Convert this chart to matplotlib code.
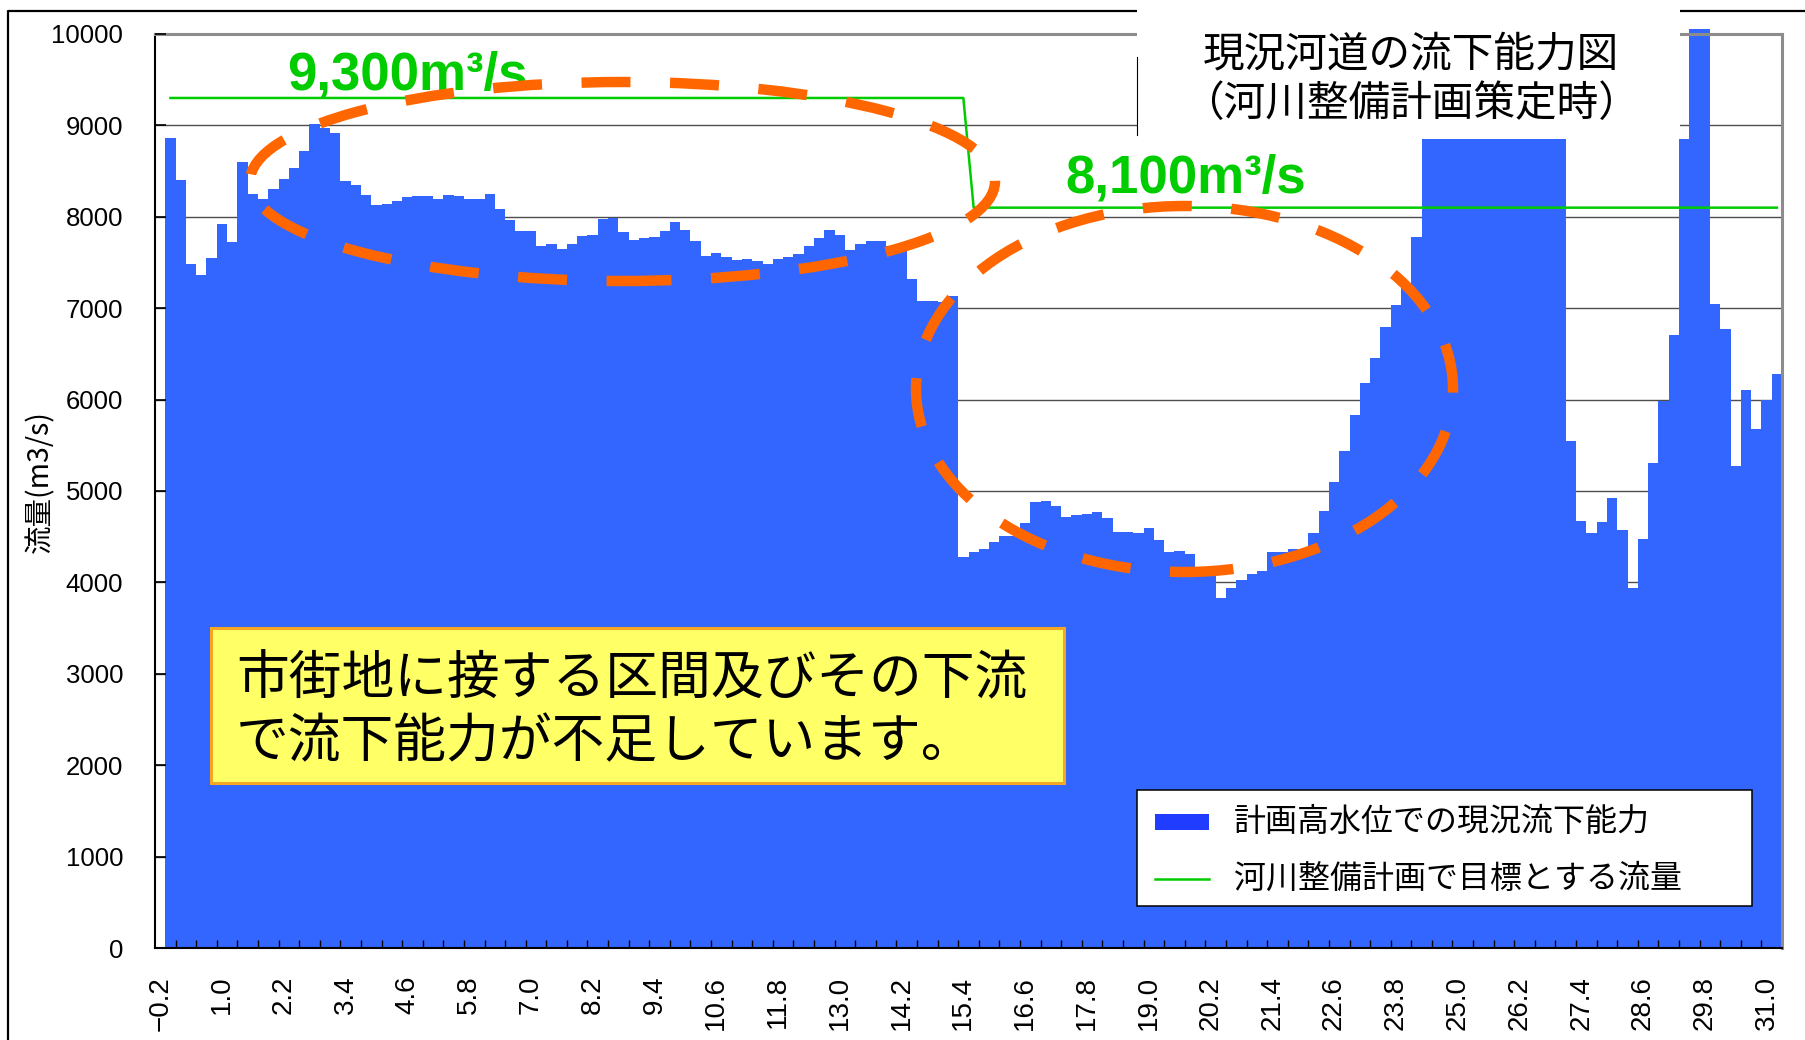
import numpy as np
import matplotlib.pyplot as plt
from matplotlib.patches import Rectangle, Ellipse
from matplotlib.lines import Line2D

plt.rcParams['font.family'] = ['Liberation Sans', 'Noto Sans CJK JP', 'DejaVu Sans']
JP = ['Noto Sans CJK JP', 'DejaVu Sans']

# 距離標 (km)  -0.2 ～ 31.2 を 0.2km ピッチ
kyori = np.round(np.arange(-0.2, 31.21, 0.2), 1)

# 計画高水位での現況流下能力 (m3/s)  ※ -0.2km は値なし
nouryoku = [
    None,
    8860, 8400, 7480, 7360, 7550, 7920, 7720, 8600, 8250, 8200,
    8300, 8410, 8530, 8720, 9020, 8970, 8920, 8390, 8350, 8240,
    8130, 8140, 8170, 8215, 8225, 8225, 8200, 8240, 8230, 8190,
    8190, 8250, 8080, 7970, 7850, 7850, 7680, 7700, 7650, 7700,
    7795, 7805, 7980, 7990, 7830, 7750, 7770, 7780, 7850, 7940,
    7860, 7730, 7575, 7600, 7565, 7530, 7540, 7520, 7480, 7540,
    7565, 7590, 7685, 7770, 7860, 7800, 7640, 7700, 7740, 7740,
    7685, 7685, 7320, 7080, 7080, 7070, 7130, 4280, 4330, 4360,
    4440, 4510, 4510, 4650, 4880, 4890, 4835, 4715, 4735, 4750,
    4770, 4700, 4550, 4550, 4540, 4595, 4460, 4330, 4340, 4310,
    4090, 4110, 3830, 3935, 4025, 4090, 4130, 4330, 4330, 4365,
    4290, 4540, 4780, 5100, 5440, 5830, 6185, 6450, 6790, 7040,
    7250, 7780,
    8850, 8850, 8850, 8850, 8850, 8850, 8850,
    8850, 8850, 8850, 8850, 8850, 8850, 8850,
    5550, 4670, 4540, 4660, 4920, 4570, 3940, 4475, 5305, 5980,
    6705, 8850, 10060, 10060, 7050, 6770, 5270, 6100, 5680, 6000,
    6280,
]

# 河川整備計画で目標とする流量 (m3/s)
mokuhyo = [None] + [9300] * 78 + [8100] * 79

BLUE = '#3366ff'
GREEN = '#00cc00'
ORANGE = '#ff6600'

W, H = 1805, 1040


def fx(px):
    return px / W


def fy(py):
    return 1 - py / H


x = np.arange(len(kyori))
cap = np.array(nouryoku, dtype=float)
plan = np.array(mokuhyo, dtype=float)
ok = ~np.isnan(cap)

fig = plt.figure(figsize=(W / 100, H / 100), dpi=100)
ax = fig.add_axes([fx(155), fy(948), (1782 - 155) / W, (948 - 34) / H])

# 目盛線 (棒の下)
for v in range(1000, 10001, 1000):
    ax.axhline(v, color='#4d4d4d', lw=1.0, zorder=1)

ax.bar(x[ok], cap[ok], width=1.0, color=BLUE, linewidth=0, zorder=2, clip_on=False)
ax.plot(x, plan, color=GREEN, lw=1.8, zorder=3)

ax.set_xlim(-0.5, len(kyori) - 0.5)
ax.set_ylim(0, 10000)
ax.set_axisbelow(False)

ax.set_yticks(range(0, 10001, 1000))
ax.tick_params(axis='y', direction='in', length=8, width=1.2, pad=23, labelsize=18.5)

ax.set_xticks(x[::6], [f'{d:.1f}'.replace('-', '\u2212') for d in kyori[::6]],
              rotation=90)
ax.set_xticks(np.arange(1.5, len(kyori) - 1, 2), minor=True)
ax.tick_params(axis='x', which='major', length=0, pad=20, labelsize=20)
ax.tick_params(axis='x', which='minor', direction='in', length=6, width=1.0)

for side in ('left', 'bottom'):
    ax.spines[side].set_color('black')
    ax.spines[side].set_linewidth(1.5)
for side in ('top', 'right'):
    ax.spines[side].set_color('#8c8c8c')
    ax.spines[side].set_linewidth(2.2)

fig.text(fx(40), fy(482), '流量(m3/s)', rotation=90, ha='center', va='center',
         fontsize=20.5, family=JP)

# 目標流量の値
ax.text(24, 9390, '9,300m³/s', ha='center', va='baseline', fontsize=38,
        fontweight='bold', color=GREEN, zorder=4)
ax.text(99.6, 8270, '8,100m³/s', ha='center', va='baseline', fontsize=38,
        fontweight='bold', color=GREEN, zorder=4)

# 外枠
fig.add_artist(Line2D([fx(8), fx(8), fx(W + 5)], [fy(H + 5), fy(11), fy(11)],
                      transform=fig.transFigure, color='black', lw=1.6, zorder=2))

# 図タイトル
fig.add_artist(Rectangle((fx(1137), fy(135)), (1680 - 1137) / W, 140 / H,
                         transform=fig.transFigure, facecolor='white',
                         edgecolor='none', zorder=3))
fig.add_artist(Line2D([fx(1137), fx(1137)], [fy(57), fy(135)],
                      transform=fig.transFigure, color='black', lw=0.8, zorder=4))
fig.text(fx(1411), fy(55), '現況河道の流下能力図', ha='center', va='center',
         fontsize=30, family=JP, zorder=5)
fig.text(fx(1411), fy(104), '（河川整備計画策定時）', ha='center', va='center',
         fontsize=30, family=JP, zorder=5)

# 説明ボックス
fig.add_artist(Rectangle((fx(211), fy(783)), (1064 - 211) / W, (783 - 628) / H,
                         transform=fig.transFigure, facecolor='#ffff66',
                         edgecolor='#f5a623', lw=2.2, zorder=3))
fig.text(fx(236), fy(679), '市街地に接する区間及びその下流', ha='left', va='center',
         fontsize=38, family=JP, zorder=5)
fig.text(fx(236), fy(742), 'で流下能力が不足しています。', ha='left', va='center',
         fontsize=38, family=JP, zorder=5)

# 凡例
fig.add_artist(Rectangle((fx(1137), fy(906)), (1752 - 1137) / W, (906 - 790) / H,
                         transform=fig.transFigure, facecolor='white',
                         edgecolor='black', lw=1.1, zorder=3))
fig.add_artist(Rectangle((fx(1155), fy(830)), (1209 - 1155) / W, 16 / H,
                         transform=fig.transFigure, facecolor='#1f3cff',
                         edgecolor='none', zorder=4))
fig.add_artist(Line2D([fx(1155), fx(1209)], [fy(879), fy(879)],
                      transform=fig.transFigure, color=GREEN, lw=1.8, zorder=4))
fig.text(fx(1234), fy(822), '計画高水位での現況流下能力', ha='left', va='center',
         fontsize=23, family=JP, zorder=5)
fig.text(fx(1234), fy(879), '河川整備計画で目標とする流量', ha='left', va='center',
         fontsize=23, family=JP, zorder=5)

# 流下能力不足区間の囲み
for cx, cy, w, h in [(622.5, 181.5, 745, 199), (1184.5, 389, 537, 366)]:
    fig.add_artist(Ellipse((fx(cx), fy(cy)), w / W, h / H,
                           transform=fig.transFigure, fill=False,
                           edgecolor=ORANGE, lw=7.5,
                           linestyle=(0, (4.7, 3.8)), zorder=6))

fig.savefig('out.png', dpi=100)
